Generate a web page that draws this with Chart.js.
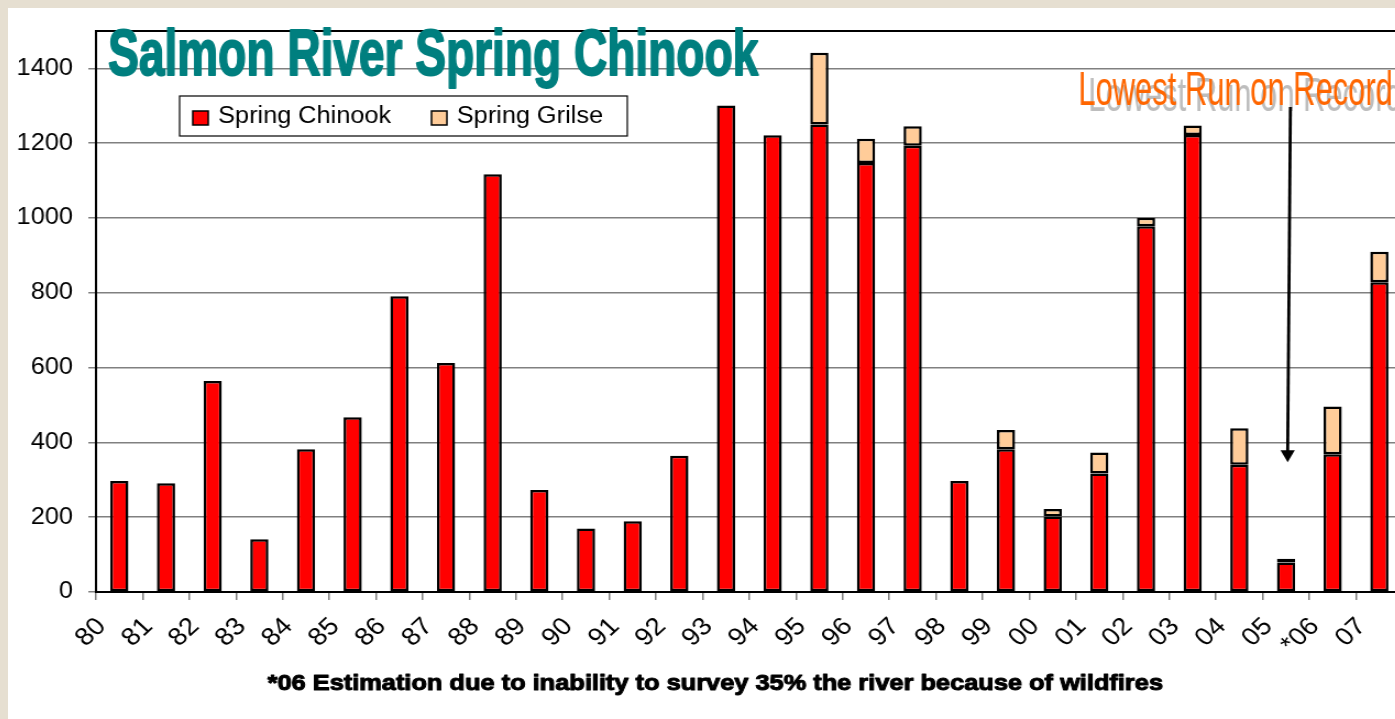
<!DOCTYPE html>
<html>
<head>
<meta charset="utf-8">
<script src="https://cdn.jsdelivr.net/npm/chart.js@4.4.1/dist/chart.umd.min.js"></script>
<style>
  html, body { margin: 0; padding: 0; width: 1395px; height: 719px; overflow: hidden; background: #e6dfd1; }
  .sheet { position: absolute; left: 8px; top: 8px; right: 0; bottom: 0; background: #fff; overflow: hidden; }
  /* the original picture is stretched sideways, so the canvas is too */
  #chart { display: block; transform: scaleX(1.1); transform-origin: 0 0; }
</style>
</head>
<body>
<div class="sheet"><canvas id="chart" width="1280" height="711"></canvas></div>
<script>
const years = ['80', '81', '82', '83', '84', '85', '86', '87', '88', '89', '90', '91', '92', '93',
  '94', '95', '96', '97', '98', '99', '00', '01', '02', '03', '04', '05', '*06', '07'];

const springChinook = [297, 291, 564, 141, 382, 467, 791, 612, 1117, 273, 170, 189, 364, 1301,
  1221, 1250, 1147, 1193, 297, 382, 202, 317, 978, 1222, 340, 79, 368, 828];

const springGrilse = [null, null, null, null, null, null, null, null, null, null, null, null, null, null,
  null, 192, 65, 52, null, 51, 20, 56, 23, 25, 98, 10, 128, 82];

const titleText = 'Salmon River Spring Chinook';
const calloutText = 'Lowest Run on Record';
const footnoteText = '*06 Estimation due to inability to survey 35% the river because of wildfires';

const FONT = '"Liberation Sans", Arial, sans-serif';
const NARROW = '"Liberation Sans Narrow", "Arial Narrow", "Liberation Sans", Arial, sans-serif';

// Draws text squeezed (or stretched) to an exact width, optionally thickened.
function fitText(ctx, text, font, color, left, baseline, width, thicken) {
  ctx.save();
  ctx.font = font;
  ctx.fillStyle = color;
  ctx.textBaseline = 'alphabetic';
  ctx.textAlign = 'left';
  const measured = ctx.measureText(text).width;
  ctx.translate(left, baseline);
  ctx.scale(width / measured, 1);
  ctx.fillText(text, 0, 0);
  if (thicken) {
    ctx.strokeStyle = color;
    ctx.lineWidth = thicken;
    ctx.lineJoin = 'round';
    ctx.strokeText(text, 0, 0);
  }
  ctx.restore();
}

const overlayPlugin = {
  id: 'overlay',
  beforeDraw(chart) {
    const { ctx, width, height } = chart;
    ctx.save();
    ctx.fillStyle = '#fff';
    ctx.fillRect(0, 0, width, height);
    ctx.restore();
  },
  afterDraw(chart) {
    const { ctx, chartArea, scales: { x, y } } = chart;

    // top frame line
    ctx.save();
    ctx.strokeStyle = '#000';
    ctx.lineWidth = 2;
    ctx.beginPath();
    ctx.moveTo(chartArea.left, chartArea.top);
    ctx.lineTo(chartArea.right, chartArea.top);
    ctx.stroke();
    ctx.restore();

    // legend box
    const datasets = chart.data.datasets;
    ctx.save();
    ctx.fillStyle = '#fff';
    ctx.fillRect(156, 88, 407, 40);
    ctx.strokeStyle = '#000';
    ctx.lineWidth = 1.2;
    ctx.strokeRect(156, 88, 407, 40);
    ctx.font = '23px ' + FONT;
    ctx.textBaseline = 'middle';
    const legendX = [168, 385];
    datasets.forEach((ds, i) => {
      ctx.fillStyle = ds.backgroundColor;
      ctx.fillRect(legendX[i], 103, 14, 14);
      ctx.strokeStyle = '#000';
      ctx.lineWidth = 1.5;
      ctx.strokeRect(legendX[i], 103, 14, 14);
      ctx.fillStyle = '#000';
      ctx.fillText(ds.label, legendX[i] + 23, 109);
    });
    ctx.restore();

    // title
    fitText(ctx, titleText, 'bold 64px ' + NARROW, '#007f7f', 91, 67, 591, 2);

    // callout with its grey shadow
    fitText(ctx, calloutText, '48px ' + NARROW, '#bdbdbd', 982, 103, 286);
    fitText(ctx, calloutText, '48px ' + NARROW, '#ff6600', 973, 97, 286);

    // arrow down to the lowest run
    const xTail = x.getPixelForValue(25) + 4;
    const xTip = x.getPixelForValue(25) + 1.5;
    const yTail = 99;
    const yTip = y.getPixelForValue(347);
    ctx.save();
    ctx.strokeStyle = '#000';
    ctx.fillStyle = '#000';
    ctx.lineWidth = 2.8;
    ctx.beginPath();
    ctx.moveTo(xTail, yTail);
    ctx.lineTo(xTip, yTip - 10);
    ctx.stroke();
    ctx.beginPath();
    ctx.moveTo(xTip - 6.5, yTip - 12);
    ctx.lineTo(xTip + 6.5, yTip - 12);
    ctx.lineTo(xTip, yTip);
    ctx.closePath();
    ctx.fill();
    ctx.restore();

    // footnote
    fitText(ctx, footnoteText, 'bold 22px ' + FONT, '#000', 236, 682, 814, 1);
  }
};

new Chart(document.getElementById('chart'), {
  type: 'bar',
  data: {
    labels: years,
    datasets: [
      {
        label: 'Spring Chinook',
        data: springChinook,
        backgroundColor: '#ff0000',
        borderColor: '#000',
        borderWidth: 2.5,
        borderSkipped: false,
        barPercentage: 0.39,
        categoryPercentage: 1
      },
      {
        label: 'Spring Grilse',
        data: springGrilse,
        backgroundColor: '#ffcc99',
        borderColor: '#000',
        borderWidth: 2.5,
        borderSkipped: false,
        barPercentage: 0.39,
        categoryPercentage: 1
      }
    ]
  },
  options: {
    responsive: false,
    animation: false,
    devicePixelRatio: 1,
    layout: { padding: { top: 23, right: 6, bottom: 0, left: 0 } },
    plugins: {
      legend: { display: false },
      title: { display: false },
      tooltip: { enabled: false }
    },
    scales: {
      x: {
        stacked: true,
        grid: {
          display: true,
          offset: true,
          drawOnChartArea: false,
          drawTicks: true,
          tickLength: 8,
          color: '#808080',
          lineWidth: 1.5
        },
        border: { display: true, color: '#000', width: 2 },
        ticks: {
          autoSkip: false,
          minRotation: 45,
          maxRotation: 45,
          labelOffset: -16,
          padding: 12,
          color: '#000',
          font: { family: FONT, size: 25 }
        },
        afterFit(scale) { scale.height = 127; }
      },
      y: {
        stacked: true,
        min: 0,
        max: 1500,
        grid: {
          color: '#808080',
          lineWidth: 1.5,
          tickLength: 7,
          tickColor: '#808080'
        },
        border: { display: true, color: '#000', width: 2 },
        ticks: {
          stepSize: 200,
          includeBounds: false,
          padding: 14,
          color: '#000',
          font: { family: FONT, size: 23 },
          callback: value => String(value)
        },
        afterFit(scale) {
          scale.width = 80;
          scale.paddingTop = 0;
          scale.paddingBottom = 0;
        }
      }
    }
  },
  plugins: [overlayPlugin]
});
</script>
</body>
</html>
